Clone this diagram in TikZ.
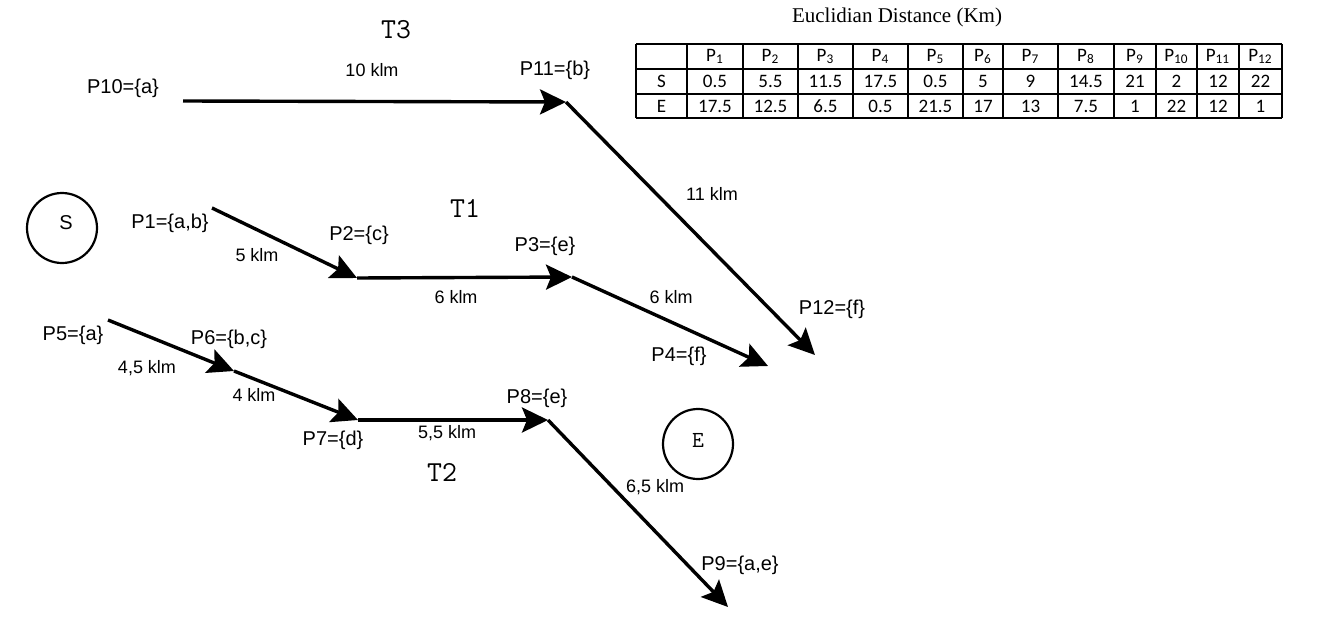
\documentclass[tikz,border=0pt]{standalone}
\usepackage{fontspec}
\setmainfont{Liberation Sans}
\newfontfamily\titleserif{Liberation Serif}
\newfontfamily\cellfont{Carlito}
\usetikzlibrary{arrows.meta}

\begin{document}
\begin{tikzpicture}[x=0.5pt,y=-0.5pt]
    % Define styles for trips, stops and the table
    \tikzstyle{trip}=[line width=1.7pt, -{Stealth[length=13pt,width=12.5pt,inset=2.5pt]}]
    \tikzstyle{stop}=[font=\fontsize{10}{12}\selectfont, inner sep=0pt]
    \tikzstyle{dist}=[font=\fontsize{9}{11}\selectfont, inner sep=0pt]
    \tikzstyle{tripname}=[font=\ttfamily\fontsize{14.5}{16}\selectfont, inner sep=0pt]
    \tikzstyle{endpoint}=[circle, draw, line width=1.1pt, minimum size=35pt, inner sep=0pt]
    \tikzstyle{cell}=[font=\cellfont\fontsize{9.5}{11}\selectfont, inner sep=0pt]
    \tikzstyle{rule}=[line width=0.75pt]

    \useasboundingbox (0,0) rectangle (1320,626);

    % Start and end
    \node[endpoint] (start) at (62,228) {};
    \node[font=\fontsize{10}{12}\selectfont] (startname) at ([xshift=2pt,yshift=2.5pt]start.center) {S};
    \node[endpoint] (end) at (698,444) {};
    \node[font=\ttfamily\fontsize{11.5}{13}\selectfont] (endname) at ([yshift=2pt]end.center) {E};

    % Trip T3
    \coordinate (p10) at (183,101);
    \coordinate (p11) at (566,102);
    \coordinate (p12) at (815,355);
    \draw[trip] (p10) -- (p11);
    \draw[trip] (p11) -- (p12);
    \node[tripname] (t3) at (396,30) {T3};
    \node[stop] (l10) at (123,88) {P10=\{a\}};
    \node[stop] (l11) at (555,70) {P11=\{b\}};
    \node[stop] (l12) at (832,309) {P12=\{f\}};
    \node[dist] (d10) at (372,70) {10 klm};
    \node[dist] (d11) at (712,194) {11 klm};

    % Trip T1
    \coordinate (p1) at (212,208);
    \coordinate (p2) at (357,278);
    \coordinate (p3) at (572,277);
    \coordinate (p4) at (768,366);
    \draw[trip] (p1) -- (p2);
    \draw[trip] (p2) -- (p3);
    \draw[trip] (p3) -- (p4);
    \node[tripname] (t1) at (465,208) {T1};
    \node[stop] (l1) at (170,223) {P1=\{a,b\}};
    \node[stop] (l2) at (359,235) {P2=\{c\}};
    \node[stop] (l3) at (545,246) {P3=\{e\}};
    \node[stop] (l4) at (679,356) {P4=\{f\}};
    \node[dist] (d1) at (257,255) {5 klm};
    \node[dist] (d2) at (456,297) {6 klm};
    \node[dist] (d3) at (671,297) {6 klm};

    % Trip T2
    \coordinate (p5) at (108,320);
    \coordinate (p6) at (234,371);
    \coordinate (p7) at (358,420);
    \coordinate (p8) at (548,420);
    \coordinate (p9) at (728,607);
    \draw[trip] (p5) -- (p6);
    \draw[trip] (p6) -- (p7);
    \draw[trip] (p7) -- (p8);
    \draw[trip] (p8) -- (p9);
    \node[tripname] (t2) at (442,472) {T2};
    \node[stop] (l5) at (73,335) {P5=\{a\}};
    \node[stop] (l6) at (229,339) {P6=\{b,c\}};
    \node[stop] (l7) at (333,440) {P7=\{d\}};
    \node[stop] (l8) at (537,398) {P8=\{e\}};
    \node[stop] (l9) at (740,565) {P9=\{a,e\}};
    \node[dist] (d5) at (147,368) {4,5 klm};
    \node[dist] (d6) at (254,395) {4 klm};
    \node[dist] (d7) at (447,433) {5,5 klm};
    \node[dist] (d8) at (655,487) {6,5 klm};

    % Table of distances
    \node[font=\titleserif\fontsize{10.5}{12}\selectfont] (title) at (897,17) {Euclidian Distance (Km)};
    \foreach \x in {636,687,743,798,853,908,963,1003,1058,1114,1156,1197,1239,1282}
        \draw[rule] (\x,44) -- (\x,118);
    \foreach \y in {44,69,94,118}
        \draw[rule] (636,\y) -- (1282,\y);
    \node[cell] (rs) at (661.5,81.5) {S};
    \node[cell] (re) at (661.5,106) {E};
    \foreach \x/\i/\s/\e in {715/1/0.5/17.5, 770.5/2/5.5/12.5, 825.5/3/11.5/6.5,
        880.5/4/17.5/0.5, 935.5/5/0.5/21.5, 983/6/5/17, 1030.5/7/9/13,
        1086/8/14.5/7.5, 1135/9/21/1, 1176.5/10/2/22, 1218/11/12/12, 1260.5/12/22/1} {
        \node[cell] (h\i) at (\x,56.5) {P\textsubscript{\i}};
        \node[cell] (s\i) at (\x,81.5) {\s};
        \node[cell] (e\i) at (\x,106) {\e};
    }

\end{tikzpicture}
\end{document}
